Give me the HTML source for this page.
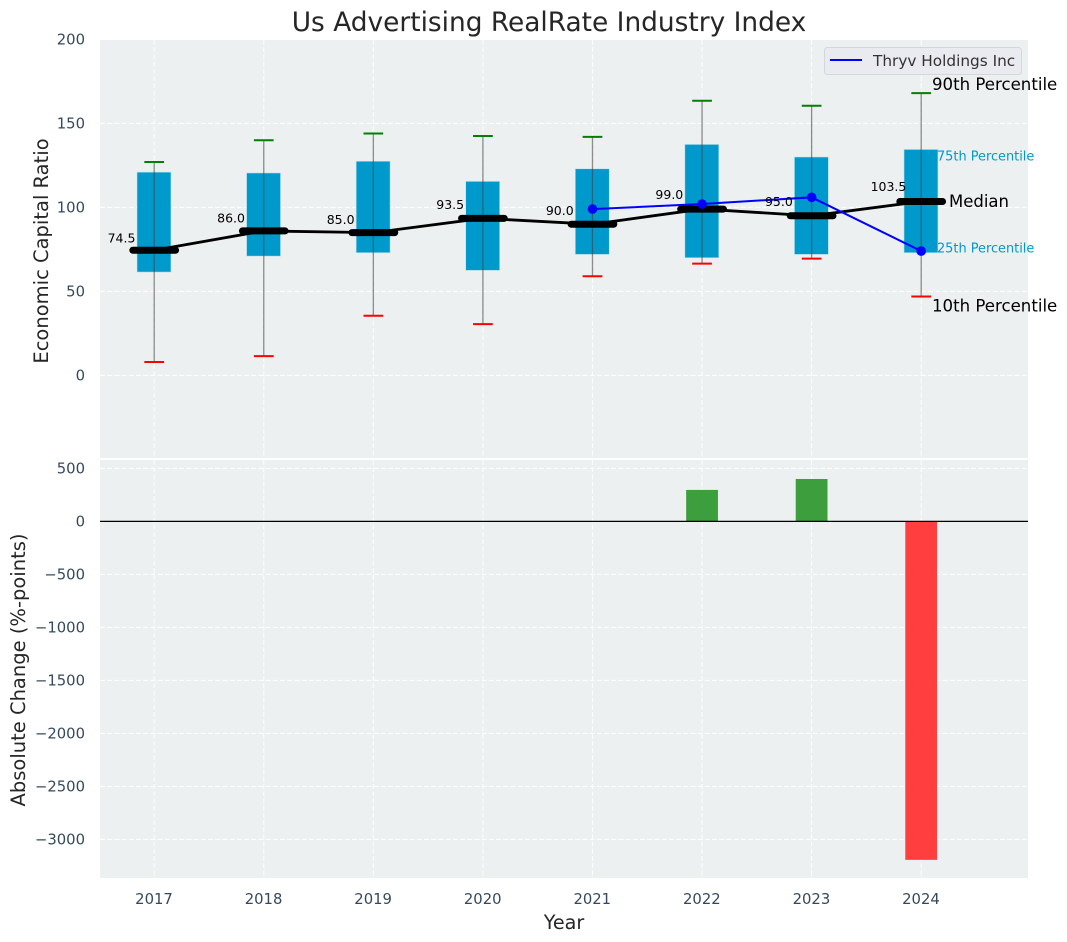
<!DOCTYPE html>
<html>
<head>
<meta charset="utf-8">
<title>Us Advertising RealRate Industry Index</title>
<style>
html,body{margin:0;padding:0;background:#fff;}
svg{display:block;font-family:"DejaVu Sans","Liberation Sans",sans-serif;}
</style>
</head>
<body>
<svg id="chart" xmlns="http://www.w3.org/2000/svg" width="1067" height="942" viewBox="0 0 1067 942"></svg>
<script>
const years = [2017, 2018, 2019, 2020, 2021, 2022, 2023, 2024];
const p90 = [127, 140, 144, 142.5, 142, 163.5, 160.5, 168];
const p75 = [121, 120.5, 127.5, 115.5, 123, 137.5, 130, 134.5];
const medians = [74.5, 86, 85, 93.5, 90, 99, 95, 103.5];
const p25 = [61.5, 71, 73, 62.5, 72, 70, 72, 73];
const p10 = [8, 11.5, 35.5, 30.5, 59, 66.5, 69.5, 47];
const thryv = [null, null, null, null, 99, 102, 106, 74];
const changes = [null, null, null, null, null, 297, 400, -3193];
const topTicks = [0, 50, 100, 150, 200];
const bottomTicks = [500, 0, -500, -1000, -1500, -2000, -2500, -3000];
const medianLabels = ['74.5', '86.0', '85.0', '93.5', '90.0', '99.0', '95.0', '103.5'];

const NS = 'http://www.w3.org/2000/svg';
const svg = document.getElementById('chart');
const L = 100, R = 1028, T1 = 40, B1 = 458, T2 = 460, B2 = 878;
function X(v){ return 154.2 + (v - 2017) * 109.57; }
function Y1(v){ return 375.4 - v * 1.68; }
function Y2(v){ return 521.4 - v * 0.106; }
function W(d){ return d * 109.57; }
function mk(tag, attrs, parent){
  const e = document.createElementNS(NS, tag);
  for (const k in attrs) e.setAttribute(k, attrs[k]);
  (parent || svg).appendChild(e);
  return e;
}
function txt(s, attrs, parent){
  const e = mk('text', attrs, parent);
  e.textContent = s;
  return e;
}

/* panels */
const p1 = mk('rect', {x:L, y:T1, width:R-L, height:B1-T1, fill:'#ecf0f1'});


const p2 = mk('rect', {x:L, y:T2, width:R-L, height:B2-T2, fill:'#ecf0f1'});



/* grid */
const gridStyle = {stroke:'#ffffff', 'stroke-width':1.1, 'stroke-dasharray':'5 2.2', fill:'none', opacity:0.85};
topTicks.forEach(function(t){
  const g = mk('line', Object.assign({x1:L, x2:R, y1:Y1(t), y2:Y1(t)}, gridStyle));
  
  
  const l = txt(String(t), {x:85, y:Y1(t)+5, 'text-anchor':'end', 'font-size':14.8, fill:'#34495e'});
  
  
});
bottomTicks.forEach(function(t){
  const g = mk('line', Object.assign({x1:L, x2:R, y1:Y2(t), y2:Y2(t)}, gridStyle));
  
  
  const l = txt(String(t).replace('-', '\u2212'), {x:85, y:Y2(t)+5, 'text-anchor':'end', 'font-size':14.8, fill:'#34495e'});
  
  
});
years.forEach(function(y){
  const g1 = mk('line', Object.assign({x1:X(y), x2:X(y), y1:T1, y2:B1}, gridStyle));
  
  
  const g2 = mk('line', Object.assign({x1:X(y), x2:X(y), y1:T2, y2:B2}, gridStyle));
  
  
  const l = txt(String(y), {x:X(y)-0.2, y:904, 'text-anchor':'middle', 'font-size':14.8, fill:'#34495e'});
  
  
});

/* boxes */
years.forEach(function(y, i){
  const box = mk('rect', {x:X(y)-W(0.157), y:Y1(p75[i]), width:W(0.31), height:Y1(p25[i])-Y1(p75[i]), fill:'#0099cc', stroke:'#bfe3ef', 'stroke-width':0.6});
  
  
});

/* median connecting line */
const medPts = years.map(function(y, i){ return X(y) + ',' + Y1(medians[i]); }).join(' ');
const medLine = mk('polyline', {points:medPts, fill:'none', stroke:'#000', 'stroke-width':2.8});



/* whiskers, caps, median bars, labels */
years.forEach(function(y, i){
  const w = mk('line', {x1:X(y), x2:X(y), y1:Y1(p90[i]), y2:Y1(p10[i]), stroke:'#444', 'stroke-width':1.3, opacity:0.6});
  
  
  const c1 = mk('line', {x1:X(y)-W(0.09), x2:X(y)+W(0.09), y1:Y1(p90[i]), y2:Y1(p90[i]), stroke:'#008000', 'stroke-width':2});
  
  
  const c2 = mk('line', {x1:X(y)-W(0.09), x2:X(y)+W(0.09), y1:Y1(p10[i]), y2:Y1(p10[i]), stroke:'#ff0000', 'stroke-width':2});
  
  
  const m = mk('line', {x1:X(y)-W(0.195), x2:X(y)+W(0.195), y1:Y1(medians[i]), y2:Y1(medians[i]), stroke:'#000', 'stroke-width':7, 'stroke-linecap':'round'});
  
  
});

/* company line */
const tIdx = thryv.map(function(v, i){ return v === null ? -1 : i; }).filter(function(i){ return i >= 0; });
const tLine = mk('polyline', {points:tIdx.map(function(i){ return X(years[i]) + ',' + Y1(thryv[i]); }).join(' '), fill:'none', stroke:'#0000ff', 'stroke-width':2});


tIdx.forEach(function(i){
  const d = mk('circle', {cx:X(years[i]), cy:Y1(thryv[i]), r:4.8, fill:'#0000ff'});
  
  
});

/* median value labels */
years.forEach(function(y, i){
  const l = txt(medianLabels[i], {x:X(y)-32.7, y:Y1(medians[i]*1.06), 'text-anchor':'middle', 'font-size':12.5, fill:'#000'});
  
  
});

/* change bars */
years.forEach(function(y, i){
  if (changes[i] === null) return;
  const v = changes[i];
  const b = mk('rect', {x:X(y)-W(0.145), y:Math.min(Y2(v), Y2(0)), width:W(0.29), height:Math.abs(Y2(v)-Y2(0)), fill:v >= 0 ? '#3c9e3c' : '#ff3f3f'});
  
  
});
const zero = mk('line', {x1:L, x2:R, y1:Y2(0), y2:Y2(0), stroke:'#000', 'stroke-width':1.3});



/* annotations on final year */
const lastYear = X(years[years.length-1]);
const a90 = txt('90th Percentile', {x:lastYear+10.8, y:Y1(p90[7])-3, 'font-size':16.6, fill:'#000'});


const a75 = txt('75th Percentile', {x:lastYear+15.8, y:Y1(p75[7])+11, 'font-size':12.9, fill:'#0099cc'});


const aMed = txt('Median', {x:lastYear+27.8, y:Y1(medians[7])+5.5, 'font-size':16.5, fill:'#000'});


const a25 = txt('25th Percentile', {x:lastYear+15.8, y:Y1(p25[7])-0.5, 'font-size':12.9, fill:'#0099cc'});


const a10 = txt('10th Percentile', {x:lastYear+10.8, y:Y1(p10[7])+15, 'font-size':16.6, fill:'#000'});



/* legend */
const lg = mk('g', {});


const lgBox = mk('rect', {x:824.5, y:47.5, width:197, height:27, rx:3, fill:'#eaebf1', stroke:'#d5d5dc', 'stroke-width':1}, lg);


const lgLine = mk('line', {x1:830, x2:862, y1:60, y2:60, stroke:'#0000ff', 'stroke-width':2}, lg);


const lgText = txt('Thryv Holdings Inc', {x:873, y:66, 'font-size':15.3, fill:'#333'}, lg);



/* titles */
const title = txt('Us Advertising RealRate Industry Index', {x:549, y:31, 'text-anchor':'middle', 'font-size':26.4, fill:'#262626'});


const xt = txt('Year', {x:564, y:929, 'text-anchor':'middle', 'font-size':19.2, fill:'#262626'});


const yt1 = txt('Economic Capital Ratio', {x:0, y:0, 'text-anchor':'middle', 'font-size':19.5, fill:'#262626', transform:'translate(48,251) rotate(-90)'});


const yt2 = txt('Absolute Change (%-points)', {x:0, y:0, 'text-anchor':'middle', 'font-size':19.5, fill:'#262626', transform:'translate(25,670) rotate(-90)'});


</script>
</body>
</html>
